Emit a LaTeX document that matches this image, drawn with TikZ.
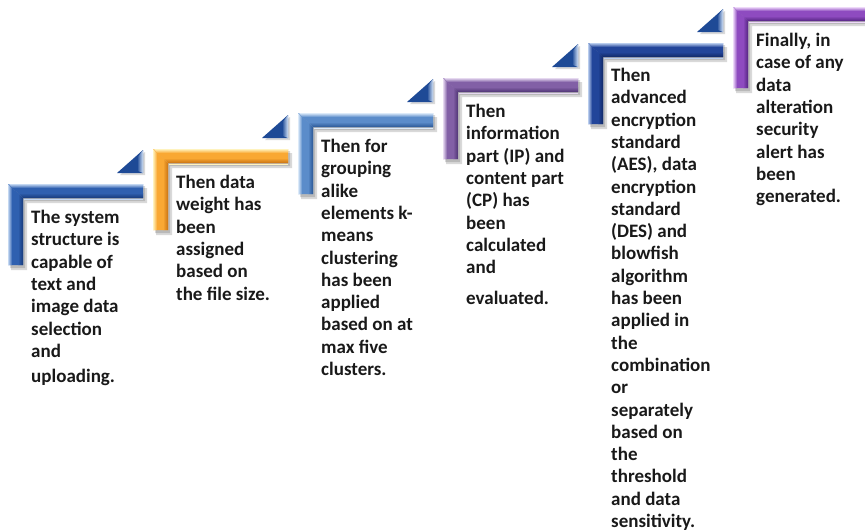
\documentclass[tikz,border=0pt]{standalone}
\usepackage{fontspec}
\setmainfont{Carlito}

% colour sets: <name>L light edge, <name>M body, <name>D shaded edge
\definecolor{blueAL}{HTML}{C4D8F2}\definecolor{blueAM}{HTML}{2F60B0}\definecolor{blueAD}{HTML}{173A7A}
\definecolor{orngL}{HTML}{FFF3BE}\definecolor{orngM}{HTML}{F9A833}\definecolor{orngD}{HTML}{C87212}
\definecolor{blueBL}{HTML}{DCEAF9}\definecolor{blueBM}{HTML}{5B8CCA}\definecolor{blueBD}{HTML}{2A5795}
\definecolor{purpAL}{HTML}{E6D9F0}\definecolor{purpAM}{HTML}{8260A6}\definecolor{purpAD}{HTML}{4F3474}
\definecolor{blueCL}{HTML}{B9CDEE}\definecolor{blueCM}{HTML}{22459A}\definecolor{blueCD}{HTML}{102866}
\definecolor{purpBL}{HTML}{EED9F9}\definecolor{purpBM}{HTML}{8E4BC0}\definecolor{purpBD}{HTML}{552582}
\definecolor{triD}{HTML}{1E4A96}\definecolor{triL}{HTML}{D2E2F6}

% one stair: mitred L-shaped bar with its wedge above the far end
% #1 left, #2 top, #3 colour set
\newcommand\stairstep[3]{%
  \begin{scope}[shift={(#1,#2)}]
    % soft drop shadow
    \fill[barshadow] (3,4) -- (139,4) -- (139,19) -- (19,19) -- (19,86) -- (3,86) -- cycle;
    \fill[barshadow] (2,2) -- (137,2) -- (137,17) -- (17,17) -- (17,84) -- (2,84) -- cycle;
    % horizontal arm
    \fill[#3M] (0,0) -- (135,0) -- (135,14) -- (15,14) -- cycle;
    \shade[top color=#3L, bottom color=#3M] (1,0) -- (135,0) -- (135,4) -- (4,4) -- cycle;
    \shade[top color=#3M, bottom color=#3D] (11,9) -- (135,9) -- (135,14) -- (15,14) -- cycle;
    % vertical arm
    \fill[#3M] (0,0) -- (15,14) -- (15,81) -- (0,81) -- cycle;
    \shade[left color=#3L, right color=#3M] (0,0) -- (4,4) -- (4,81) -- (0,81) -- cycle;
    \shade[left color=#3M, right color=#3D] (10,9) -- (15,14) -- (15,81) -- (10,81) -- cycle;
    \draw[#3L, line width=0.8pt] (16,15.5) -- (135,15.5);
    % wedge
    \fill[barshadow] (112,-9) -- (137,-9) -- (137,-32) -- cycle;
    \fill[triD] (109,-11) -- (135,-11) -- (135,-34) -- cycle;
    \shade[left color=triD, right color=triL] (129,-26) -- (135,-34) -- (135,-11) -- (130,-13) -- cycle;
  \end{scope}}

\begin{document}
\begin{tikzpicture}[x=1pt,y=-1pt,
  barshadow/.style={fill=black, opacity=.15},
  stairtext/.style={anchor=north west, inner sep=0pt, align=left,
    font=\bfseries\fontsize{19}{22.3}\selectfont, text=black!90}]
\useasboundingbox (0,0) rectangle (865,531);
\clip (0,0) rectangle (865,531);

\stairstep{8}{184}{blueA}
\stairstep{153}{149}{orng}
\stairstep{298}{113}{blueB}
\stairstep{443}{78}{purpA}
\stairstep{588}{43}{blueC}
\stairstep{733}{7}{purpB}

\node[stairtext] (t1) at (31,210) {The system\\structure is\\capable of\\text and\\image data\\selection\\and\\[3pt]uploading.};
\node[stairtext] (t2) at (176,175) {Then data\\weight has\\been\\assigned\\based on\\the file size.};
\node[stairtext] (t3) at (321,139) {Then for\\grouping\\alike\\elements k-\\means\\clustering\\has been\\applied\\based on at\\max five\\clusters.};
\node[stairtext] (t4) at (466,104) {Then\\information\\part (IP) and\\content part\\(CP) has\\been\\calculated\\and\\[9pt]evaluated.};
\node[stairtext] (t5) at (611,68) {Then\\advanced\\encryption\\standard\\(AES), data\\encryption\\standard\\(DES) and\\blowfish\\algorithm\\has been\\applied in\\the\\combination\\or\\separately\\based on\\the\\threshold\\and data\\sensitivity.};
\node[stairtext] (t6) at (756,33) {Finally, in\\case of any\\data\\alteration\\security\\alert has\\been\\generated.};
\end{tikzpicture}
\end{document}
